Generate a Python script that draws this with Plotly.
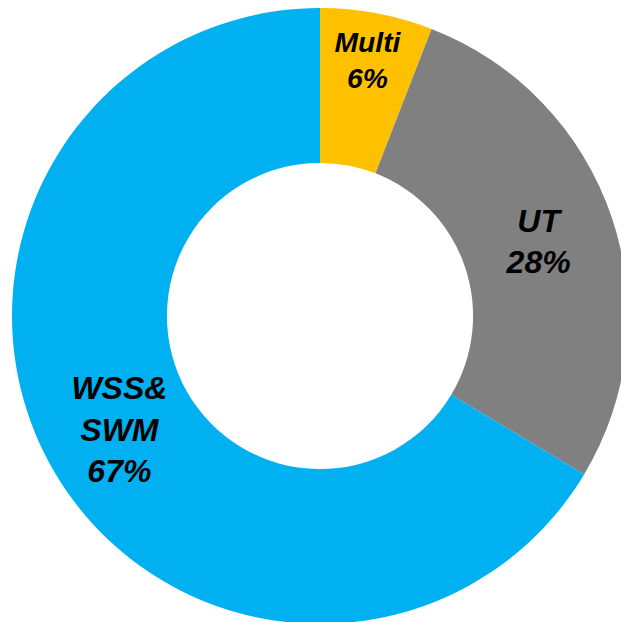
import plotly.graph_objects as go

labels = ["Multi", "UT", "WSS&<br>SWM"]
values = [5.9, 27.7, 66.4]
pct_text = ["6%", "28%", "67%"]
colors = ["#FFC000", "#808080", "#00B0F0"]

W, H = 640, 640
fig = go.Figure(go.Pie(
    labels=labels,
    values=values,
    text=pct_text,
    hole=0.497,
    sort=False,
    direction="clockwise",
    rotation=0,
    marker=dict(colors=colors, line=dict(width=0)),
    textinfo="text",
    texttemplate="%{label}<br>%{text}",
    textposition="inside",
    insidetextorientation="horizontal",
    textfont=dict(family="Liberation Sans, Arial", size=32, color="black",
                  weight="bold", style="italic"),
    domain=dict(x=[12 / W, 628 / W], y=[1 - 624 / H, 1 - 8 / H]),
    showlegend=False,
))
fig.update_layout(
    width=W, height=H,
    margin=dict(l=0, r=0, t=0, b=0),
    paper_bgcolor="white",
    showlegend=False,
)
fig.write_html(
    "out.html",
    config={"displayModeBar": False},
    post_script="document.body.style.margin='0';document.body.style.overflow='hidden';document.documentElement.style.overflow='hidden';",
)
